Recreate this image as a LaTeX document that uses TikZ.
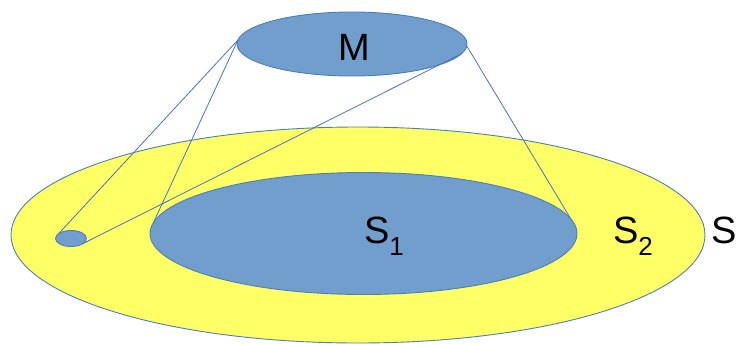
\documentclass[tikz,border=0pt]{standalone}
\usepackage{fontspec}
\setmainfont{Liberation Sans}
\usetikzlibrary{shapes.geometric}
\definecolor{yel}{RGB}{255,255,102}
\definecolor{bfill}{RGB}{114,158,206}
\definecolor{bline}{RGB}{74,126,187}
\definecolor{cline}{RGB}{68,114,196}
\begin{document}
\begin{tikzpicture}[x=1pt,y=-1pt,
  ell/.style={ellipse,draw=bline,line width=0.9pt,inner sep=0pt,outer sep=0pt},
  lbl/.style={inner sep=0pt,outer sep=0pt,anchor=base west,font=\fontsize{38}{38}\selectfont},
  sub/.style={},
  conn/.style={draw=cline,line width=0.8pt}]
\useasboundingbox (0,0) rectangle (736,345);
\node[ell,fill=yel,minimum width=694pt,minimum height=216pt] (big) at (358,235) {};
\node[ell,fill=bfill,minimum width=427pt,minimum height=122pt] (s1) at (363.5,233.5) {};
\node[ell,fill=bfill,minimum width=31pt,minimum height=16pt] (sm) at (71,238.5) {};
\node[ell,fill=bfill,minimum width=230pt,minimum height=64pt] (m) at (352,44) {};
\node[lbl] (lm) at (338,60) {M};
\node[lbl] (ls1) at (364,243) {S\raisebox{-12pt}{\fontsize{26}{26}\selectfont 1}};
\node[lbl] (ls2) at (613,243) {S\raisebox{-12pt}{\fontsize{26}{26}\selectfont 2}};
\node[lbl] (ls) at (711,243) {S};
\draw[conn] (sm.159) -- (m.178);
\draw[conn] (s1.177.3) -- (m.178);
\draw[conn] (sm.-23) -- (m.-5.2);
\draw[conn] (s1.4.2) -- (m.-1);
\end{tikzpicture}
\end{document}
